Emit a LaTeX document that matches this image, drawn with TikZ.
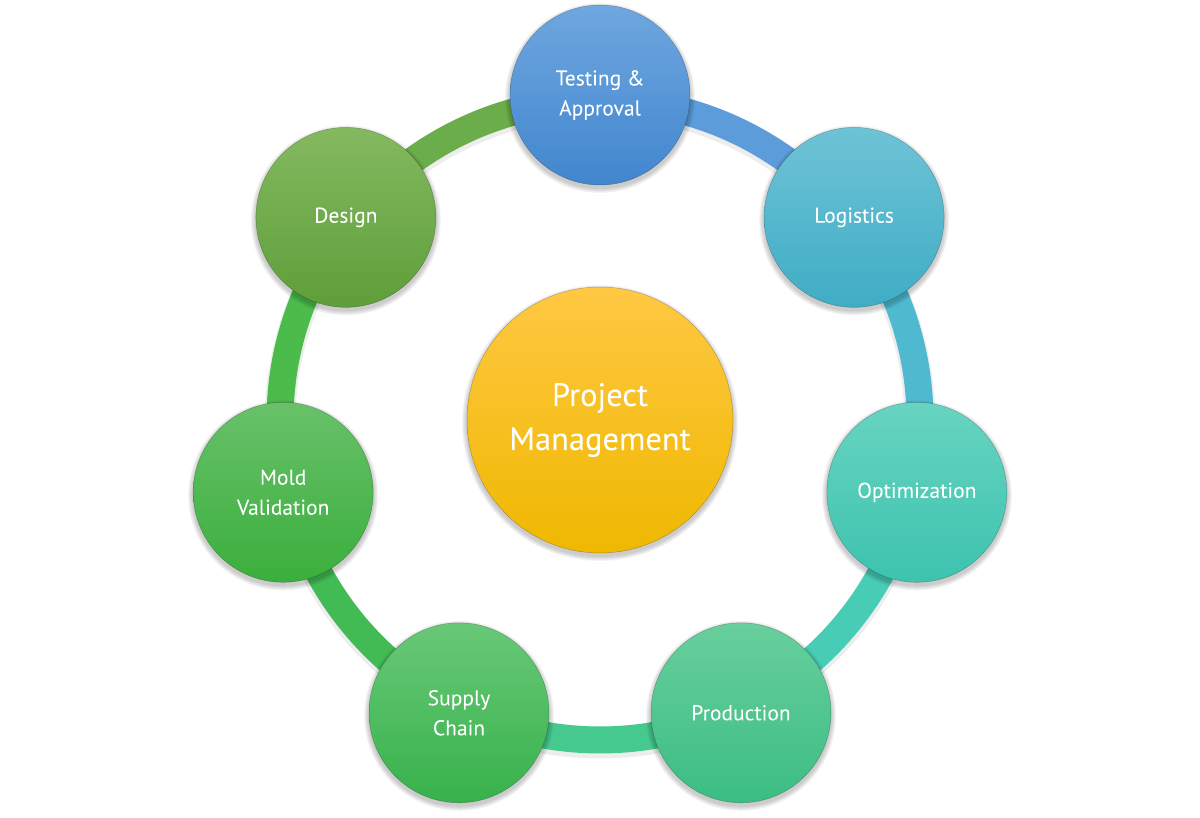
\documentclass[tikz,border=0pt]{standalone}
\usepackage{fontspec}
\setmainfont[FakeBold=0.5]{PT Sans}
\pgfdeclarelayer{ringl}
\pgfdeclarelayer{shadl}
\pgfsetlayers{ringl,shadl,main}
\definecolor{pmT}{HTML}{FFC843}
\definecolor{pmB}{HTML}{EFB800}
\definecolor{taT}{HTML}{6FA7DF}\definecolor{taB}{HTML}{4186CE}\definecolor{taR}{HTML}{5C9CDB}
\definecolor{loT}{HTML}{6EC3D6}\definecolor{loB}{HTML}{3FADC5}\definecolor{loR}{HTML}{4FB9CF}
\definecolor{opT}{HTML}{68D4C1}\definecolor{opB}{HTML}{3CC3AE}\definecolor{opR}{HTML}{47CCB6}
\definecolor{prT}{HTML}{68CF9D}\definecolor{prB}{HTML}{3BBD83}\definecolor{prR}{HTML}{45C98E}
\definecolor{suT}{HTML}{68C877}\definecolor{suB}{HTML}{37B24B}\definecolor{suR}{HTML}{43BB55}
\definecolor{moT}{HTML}{68C169}\definecolor{moB}{HTML}{3AAF3C}\definecolor{moR}{HTML}{4BBB4B}
\definecolor{deT}{HTML}{84B960}\definecolor{deB}{HTML}{5E9E3A}\definecolor{deR}{HTML}{6BAD4A}
\begin{document}
\begin{tikzpicture}[x=1pt,y=1pt,
  bub/.style={circle, minimum size=180pt, inner sep=0pt, text=white,
    font=\fontsize{21.5}{30}\selectfont, align=center,
    draw=black, draw opacity=0.25, line width=0.5pt},
  ringseg/.style={line width=27pt},
  ringshadow/.style={line width=31pt, draw=black, draw opacity=0.07}
]
\useasboundingbox (0,0) rectangle (1200,817);
% nodes
\node[bub, minimum size=266pt, top color=pmT, bottom color=pmB,
  font=\fontsize{32.5}{44}\selectfont] (pm) at (600,397) {Project\\Management};
\node[bub, top color=taT, bottom color=taB] (n0) at ([shift={(90:325)}]pm.center) {Testing \&\\Approval};
\node[bub, top color=loT, bottom color=loB] (n1) at ([shift={(38.5714:325)}]pm.center) {Logistics};
\node[bub, top color=opT, bottom color=opB] (n2) at ([shift={(-12.8571:325)}]pm.center) {Optimization};
\node[bub, top color=prT, bottom color=prB] (n3) at ([shift={(-64.2857:325)}]pm.center) {Production};
\node[bub, top color=suT, bottom color=suB] (n4) at ([shift={(-115.7143:325)}]pm.center) {Supply\\Chain};
\node[bub, top color=moT, bottom color=moB] (n5) at ([shift={(-167.1429:325)}]pm.center) {Mold\\Validation};
\node[bub, top color=deT, bottom color=deB] (n6) at ([shift={(141.4286:325)}]pm.center) {Design};
% ring
\begin{pgfonlayer}{ringl}
  \foreach \a/\b in {90/38.5714,38.5714/-12.8571,-12.8571/-64.2857,-64.2857/-115.7143,-115.7143/-167.1429,-167.1429/-218.5714,141.4286/90}{
    \draw[ringshadow] ([shift={(\a:320)},yshift=-3pt]pm.center) arc[start angle=\a, end angle=\b, radius=320];
  }
  \draw[ringseg, draw=taR] ([shift={(90:320)}]pm.center) arc[start angle=90, end angle=38.5714, radius=320];
  \draw[ringseg, draw=loR] ([shift={(38.5714:320)}]pm.center) arc[start angle=38.5714, end angle=-12.8571, radius=320];
  \draw[ringseg, draw=opR] ([shift={(-12.8571:320)}]pm.center) arc[start angle=-12.8571, end angle=-64.2857, radius=320];
  \draw[ringseg, draw=prR] ([shift={(-64.2857:320)}]pm.center) arc[start angle=-64.2857, end angle=-115.7143, radius=320];
  \draw[ringseg, draw=suR] ([shift={(-115.7143:320)}]pm.center) arc[start angle=-115.7143, end angle=-167.1429, radius=320];
  \draw[ringseg, draw=moR] ([shift={(-167.1429:320)}]pm.center) arc[start angle=-167.1429, end angle=-218.5714, radius=320];
  \draw[ringseg, draw=deR] ([shift={(141.4286:320)}]pm.center) arc[start angle=141.4286, end angle=90, radius=320];
\end{pgfonlayer}
% shadows
\begin{pgfonlayer}{shadl}
  \foreach \d in {1,2,3,4,5}{
    \fill[black, opacity=0.045] ([yshift=-3pt]pm.center) circle ({133+\d});
    \foreach \n in {n0,n1,n2,n3,n4,n5,n6}{
      \fill[black, opacity=0.045] ([yshift=-3pt]\n.center) circle ({90+\d});
    }
  }
\end{pgfonlayer}
\end{tikzpicture}
\end{document}
